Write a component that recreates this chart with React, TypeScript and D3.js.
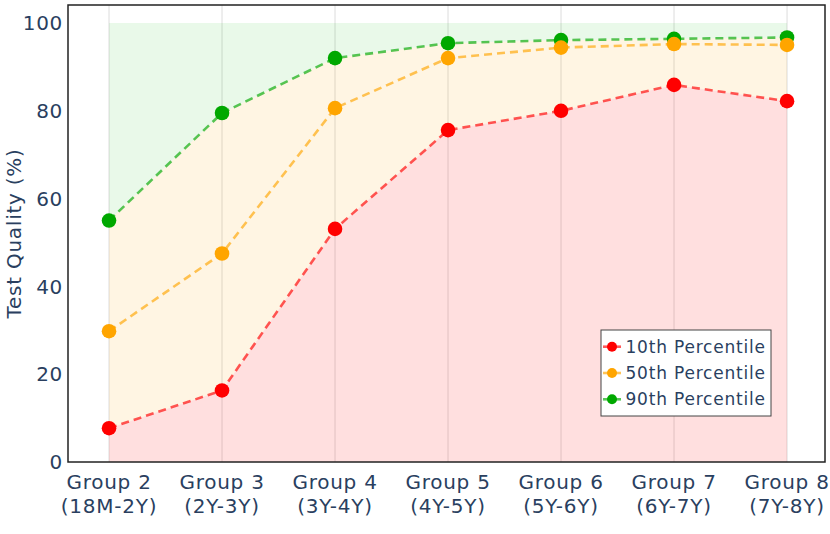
import React from 'react';
import * as d3 from 'd3';

// Data
const groups = ['Group 2', 'Group 3', 'Group 4', 'Group 5', 'Group 6', 'Group 7', 'Group 8'];
const ageRanges = ['(18M-2Y)', '(2Y-3Y)', '(3Y-4Y)', '(4Y-5Y)', '(5Y-6Y)', '(6Y-7Y)', '(7Y-8Y)'];
const p10 = [7.7, 16.3, 53.1, 75.6, 80.0, 85.9, 82.2];
const p50 = [29.8, 47.5, 80.6, 92.0, 94.4, 95.2, 95.0];
const p90 = [55.0, 79.5, 92.0, 95.4, 96.1, 96.4, 96.7];
const yTicks = [0, 20, 40, 60, 80, 100];

const series = [
  { name: '10th Percentile', values: p10, color: '#ff0000' },
  { name: '50th Percentile', values: p50, color: '#ffa500' },
  { name: '90th Percentile', values: p90, color: '#00a800' },
];

const W = 830;
const H = 534;
const plot = { left: 68, right: 825, top: 5, bottom: 462 };
const FONT = '"DejaVu Sans", Verdana, sans-serif';
const TEXT = '#2a3f5f';

const App: React.FC = () => {
  const x = d3.scaleLinear().domain([-0.363, 6.336]).range([plot.left, plot.right]);
  const y = d3.scaleLinear().domain([0, 104.1]).range([plot.bottom, plot.top]);
  const idx = groups.map((_, i) => i);

  const band = (lo: (i: number) => number, hi: (i: number) => number) =>
    d3.area<number>()
      .x(i => x(i))
      .y0(i => y(lo(i)))
      .y1(i => y(hi(i)))(idx) ?? '';

  const line = (vals: number[]) =>
    d3.line<number>().x(i => x(i)).y(i => y(vals[i]))(idx) ?? '';

  const legendX = 601;
  const legendY = 330;
  const legendRow = 26.3;

  return (
    <svg width={W} height={H} style={{ position: 'absolute', left: 0, top: 0, background: '#fff' }}
      fontFamily={FONT}>
      {/* vertical grid */}
      {idx.map(i => (
        <line key={`g${i}`} x1={x(i)} x2={x(i)} y1={plot.top} y2={plot.bottom} stroke="#dcdcdc" strokeWidth={1} />
      ))}

      {/* fills */}
      <path d={band(() => 0, i => p10[i])} fill="rgba(255,0,0,0.125)" />
      <path d={band(i => p10[i], i => p90[i])} fill="rgba(255,165,0,0.11)" />
      <path d={band(i => p90[i], () => 100)} fill="rgba(0,180,0,0.085)" />

      {/* dashed lines */}
      {series.map(s => (
        <path key={`l${s.name}`} d={line(s.values)} fill="none" stroke={s.color} strokeOpacity={0.65}
          strokeWidth={2.6} strokeDasharray="8,5" />
      ))}

      {/* markers */}
      {[...series].reverse().map(s => (
        <g key={`m${s.name}`}>
          {s.values.map((v, i) => (
            <circle key={i} cx={x(i)} cy={y(v)} r={7.3} fill={s.color} />
          ))}
        </g>
      ))}

      {/* frame */}
      <rect x={plot.left} y={plot.top} width={plot.right - plot.left} height={plot.bottom - plot.top}
        fill="none" stroke="#222" strokeWidth={1.5} />

      {/* y ticks */}
      {yTicks.map(t => (
        <text key={`y${t}`} x={63} y={y(t)} dy="0.36em" textAnchor="end" fontSize={20} fill={TEXT}
          letterSpacing={0.7}>{t}</text>
      ))}

      {/* x ticks */}
      {groups.map((g, i) => (
        <text key={`x${i}`} x={x(i)} textAnchor="middle" fontSize={20} fill={TEXT} letterSpacing={0.75}>
          <tspan x={x(i)} y={489}>{g}</tspan>
          <tspan x={x(i)} y={512.5}>{ageRanges[i]}</tspan>
        </text>
      ))}

      {/* y title */}
      <text transform={`translate(21, ${(plot.top + plot.bottom) / 2}) rotate(-90)`} textAnchor="middle"
        fontSize={20} fill={TEXT} letterSpacing={0.75}>Test Quality (%)</text>

      {/* legend */}
      <rect x={legendX} y={legendY} width={170} height={86} fill="#fff" stroke="#444" strokeWidth={1} />
      {series.map((s, k) => {
        const cy = legendY + 16.7 + k * legendRow;
        return (
          <g key={`lg${s.name}`}>
            <line x1={legendX + 2} x2={legendX + 20} y1={cy} y2={cy} stroke={s.color} strokeOpacity={0.65} strokeWidth={2.6} />
            <circle cx={legendX + 11} cy={cy} r={5} fill={s.color} />
            <text x={legendX + 24.5} y={cy} dy="0.36em" fontSize={17} fill={TEXT} letterSpacing={0.8}>{s.name}</text>
          </g>
        );
      })}
    </svg>
  );
};

export default App;
